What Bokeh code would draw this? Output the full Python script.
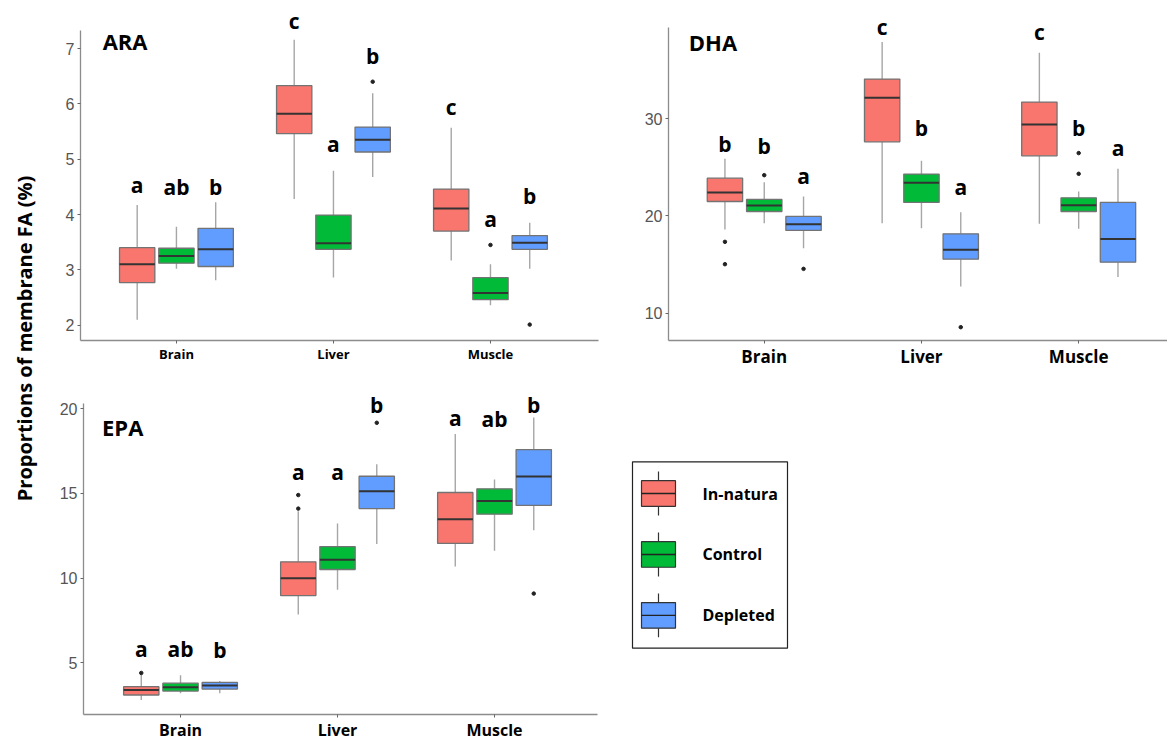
import math
from bokeh.plotting import figure
from bokeh.layouts import row, column
from bokeh.models import Range1d, FixedTicker, ColumnDataSource, Label
from bokeh.core.properties import value
from bokeh.embed import file_html
from bokeh.resources import INLINE

tissues = ["Brain", "Liver", "Muscle"]
groups = ["In-natura", "Control", "Depleted"]
group_colors = ["#F8766D", "#00BA38", "#619CFF"]
y_title = "Proportions of membrane FA (%)"

# box order: Brain (In-natura, Control, Depleted), Liver (...), Muscle (...)
ara_low = [2.10, 3.02, 2.81, 4.28, 2.86, 4.68, 3.17, 2.36, 3.02]
ara_q1 = [2.77, 3.12, 3.06, 5.46, 3.37, 5.13, 3.70, 2.46, 3.37]
ara_med = [3.10, 3.25, 3.37, 5.82, 3.48, 5.35, 4.11, 2.58, 3.49]
ara_q3 = [3.40, 3.39, 3.75, 6.33, 3.99, 5.58, 4.46, 2.86, 3.62]
ara_high = [4.17, 3.78, 4.22, 7.16, 4.79, 6.19, 5.57, 3.10, 3.85]
ara_out_tissue = ["Liver", "Muscle", "Muscle"]
ara_out_group = ["Depleted", "Control", "Depleted"]
ara_out_value = [6.40, 3.45, 2.01]
ara_letters = ["a", "ab", "b", "c", "a", "b", "c", "a", "b"]
ara_letter_y = [4.38, 4.35, 4.35, 7.36, 5.13, 6.72, 5.80, 3.78, 4.19]
ara_ticks = [2, 3, 4, 5, 6, 7]

dha_low = [18.61, 19.26, 16.69, 19.26, 18.75, 12.74, 19.19, 18.68, 13.71]
dha_q1 = [21.49, 20.46, 18.51, 27.63, 21.39, 15.56, 26.19, 20.46, 15.25]
dha_med = [22.42, 21.08, 19.16, 32.16, 23.41, 16.52, 29.42, 21.11, 17.62]
dha_q3 = [23.89, 21.70, 19.95, 34.08, 24.31, 18.16, 31.72, 21.87, 21.39]
dha_high = [25.88, 23.48, 22.00, 37.89, 25.68, 20.39, 36.79, 22.52, 24.85]
dha_out_tissue = ["Brain", "Brain", "Brain", "Brain", "Liver", "Muscle", "Muscle"]
dha_out_group = ["In-natura", "In-natura", "Control", "Depleted", "Depleted", "Control", "Control"]
dha_out_value = [17.34, 15.04, 24.20, 14.56, 8.56, 26.47, 24.34]
dha_letters = ["b", "b", "a", "c", "b", "a", "c", "b", "a"]
dha_letter_y = [26.57, 26.40, 23.24, 38.64, 28.18, 22.11, 38.13, 28.18, 26.12]
dha_ticks = [10, 20, 30]

epa_low = [2.82, 3.21, 3.21, 7.86, 9.32, 12.01, 10.68, 11.62, 12.83]
epa_q1 = [3.11, 3.34, 3.46, 8.97, 10.51, 14.10, 12.05, 13.77, 14.29]
epa_med = [3.40, 3.56, 3.67, 10.00, 11.08, 15.13, 13.47, 14.55, 15.99]
epa_q3 = [3.60, 3.81, 3.85, 10.96, 11.86, 16.01, 15.05, 15.27, 17.58]
epa_high = [4.30, 4.28, 3.93, 13.95, 13.22, 16.71, 18.50, 15.81, 19.47]
epa_out_tissue = ["Brain", "Liver", "Liver", "Liver", "Muscle"]
epa_out_group = ["In-natura", "In-natura", "In-natura", "Depleted", "Depleted"]
epa_out_value = [4.41, 14.10, 14.90, 19.16, 9.09]
epa_letters = ["a", "ab", "b", "a", "a", "b", "a", "ab", "b"]
epa_letter_y = [5.33, 5.33, 5.29, 15.81, 15.81, 19.71, 18.97, 18.93, 19.71]
epa_ticks = [5, 10, 15, 20]

BOLD = "Open Sans"
PLAIN = "Liberation Sans"
DODGE = 0.25
BOXW = 0.225


def xpos(t, g):
    return tissues.index(t) + 1 + (groups.index(g) - 1) * DODGE


def clean(p):
    p.xgrid.visible = False
    p.ygrid.visible = False
    p.background_fill_color = "white"
    p.border_fill_color = "white"


def panel(name, low, q1, med, q3, high, out_t, out_g, out_v, letters, letter_y,
          ticks, xr, yr, ybounds, size, borders, xlab_size, title_xy):
    w, h = size
    bl, br, bt, bb = borders
    p = figure(width=w, height=h, x_range=Range1d(*xr), y_range=Range1d(*yr),
               output_backend="svg", toolbar_location=None,
               min_border_left=bl, min_border_right=br,
               min_border_top=bt, min_border_bottom=bb)
    clean(p)
    p.outline_line_color = None

    bt_list = [t for t in tissues for g in groups]
    bg_list = [g for t in tissues for g in groups]
    xs = [xpos(t, g) for t, g in zip(bt_list, bg_list)]
    src = ColumnDataSource(dict(
        x=xs, x0=[x - BOXW / 2 for x in xs], x1=[x + BOXW / 2 for x in xs],
        low=low, q1=q1, med=med, q3=q3, high=high,
        color=[group_colors[groups.index(g)] for g in bg_list],
        letter=letters, ly=letter_y))

    p.segment(x0="x", y0="q3", x1="x", y1="high", source=src,
              line_color="#A6A6A6", line_width=1.4)
    p.segment(x0="x", y0="q1", x1="x", y1="low", source=src,
              line_color="#A6A6A6", line_width=1.4)
    p.vbar(x="x", width=BOXW, bottom="q1", top="q3", source=src,
           fill_color="color", line_color="#737373", line_width=1.3)
    p.segment(x0="x0", y0="med", x1="x1", y1="med", source=src,
              line_color="#333333", line_width=2)

    osrc = ColumnDataSource(dict(x=[xpos(t, g) for t, g in zip(out_t, out_g)], y=out_v))
    p.scatter(x="x", y="y", source=osrc, size=3.5, fill_color="#222222", line_color="#222222")

    p.text(x="x", y="ly", text="letter", source=src, text_align="center",
           text_baseline="alphabetic", y_offset=-8, text_font=value(BOLD),
           text_font_style="bold", text_font_size="21px", text_color="black")

    p.text(x=[title_xy[0]], y=[title_xy[1]], text=[name], text_align="left",
           text_baseline="alphabetic", y_offset=-8, text_font=value(BOLD),
           text_font_style="bold", text_font_size="22px", text_color="black")

    p.yaxis.ticker = FixedTicker(ticks=ticks)
    p.yaxis.bounds = ybounds
    p.xaxis.ticker = FixedTicker(ticks=[1, 2, 3])
    p.xaxis.major_label_overrides = {i + 1: t for i, t in enumerate(tissues)}
    for ax in (p.xaxis, p.yaxis):
        ax.axis_line_color = "#8C8C8C"
        ax.axis_line_width = 1.3
        ax.major_tick_line_color = "#666666"
        ax.major_tick_out = 3
        ax.major_tick_in = 0
        ax.minor_tick_line_color = None
    p.yaxis.major_label_text_font = PLAIN
    p.yaxis.major_label_text_font_size = "16px"
    p.yaxis.major_label_text_color = "#555555"
    p.yaxis.major_label_standoff = 3
    p.xaxis.major_label_text_font = BOLD
    p.xaxis.major_label_text_font_style = "bold"
    p.xaxis.major_label_text_font_size = xlab_size
    p.xaxis.major_label_text_color = "black"
    p.xaxis.major_label_standoff = 1
    return p


ara = panel("ARA", ara_low, ara_q1, ara_med, ara_q3, ara_high,
            ara_out_tissue, ara_out_group, ara_out_value, ara_letters, ara_letter_y,
            ara_ticks, (0.389, 3.688), (1.723, 7.687), (1.723, 7.325),
            (572, 375), (32, 22, 10, 35), "13px", (0.53, 7.0))
dha = panel("DHA", dha_low, dha_q1, dha_med, dha_q3, dha_high,
            dha_out_tissue, dha_out_group, dha_out_value, dha_letters, dha_letter_y,
            dha_ticks, (0.391, 3.565), (7.19, 41.14), (7.19, 39.42),
            (547, 375), (48, 0, 10, 35), "17px", (0.52, 37.03))
epa = panel("EPA", epa_low, epa_q1, epa_med, epa_q3, epa_high,
            epa_out_tissue, epa_out_group, epa_out_value, epa_letters, epa_letter_y,
            epa_ticks, (0.382, 3.656), (1.96, 21.36), (1.96, 20.29),
            (567, 368), (35, 18, 10, 26), "16px", (0.50, 18.47))

# legend panel (same vertical borders as the EPA panel so frames align)
n = len(groups)
leg = figure(width=200, height=368, x_range=Range1d(0, 200), y_range=Range1d(3.626, -1.772),
             output_backend="svg", toolbar_location=None,
             min_border_left=0, min_border_right=0, min_border_top=10, min_border_bottom=26)
leg.axis.visible = False
clean(leg)
leg.outline_line_color = None
leg.quad(left=[17], right=[172], top=[-0.52], bottom=[n - 0.463],
         fill_color=None, line_color="#222222", line_width=1.2)
lsrc = ColumnDataSource(dict(
    i=list(range(n)), name=groups, color=group_colors,
    lo=[k - 0.36 for k in range(n)], hi=[k + 0.36 for k in range(n)],
    b0=[k - 0.21 for k in range(n)], b1=[k + 0.21 for k in range(n)],
    xc=[43] * n, xa=[26] * n, xb=[60] * n, xt=[87] * n))
leg.segment(x0="xc", y0="lo", x1="xc", y1="hi", source=lsrc, line_color="#333333", line_width=1.2)
leg.quad(left="xa", right="xb", bottom="b0", top="b1", source=lsrc,
         fill_color="color", line_color="#333333", line_width=1.2)
leg.segment(x0="xa", y0="i", x1="xb", y1="i", source=lsrc, line_color="#222222", line_width=1.4)
leg.text(x="xt", y="i", text="name", source=lsrc, text_align="left", text_baseline="middle",
         text_font=value(BOLD), text_font_style="bold", text_font_size="16px",
         text_color="black")

# shared y title
ylab = figure(width=48, height=743, x_range=Range1d(0, 48), y_range=Range1d(0, 743),
              output_backend="svg", toolbar_location=None,
              min_border_left=0, min_border_right=0, min_border_top=0, min_border_bottom=0)
ylab.axis.visible = False
clean(ylab)
ylab.outline_line_color = None
ylab.add_layout(Label(x=24, y=405, text=y_title, angle=math.pi / 2,
                      text_align="center", text_baseline="middle",
                      text_font=BOLD, text_font_style="bold",
                      text_font_size="20px", text_color="black"))

layout = row(ylab, column(row(ara, dha), row(epa, leg)))
open("out.html", "w").write(file_html(layout, INLINE))
